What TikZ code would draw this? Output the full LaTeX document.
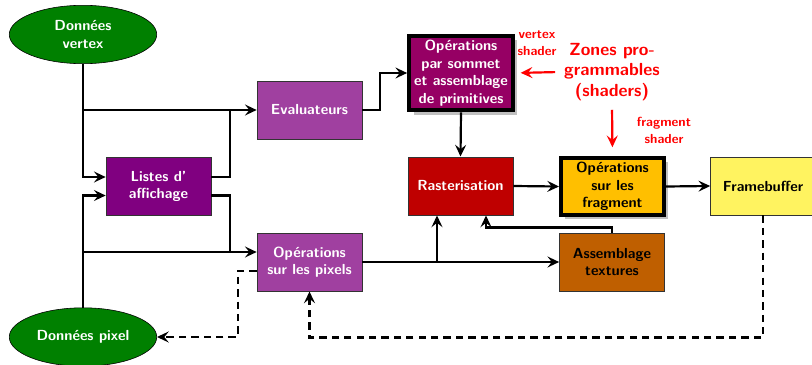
\documentclass[tikz,border=0pt]{standalone}
\usepackage{fontspec}
\usetikzlibrary{shapes.geometric,arrows.meta,calc,shadows}
\definecolor{ellcol}{RGB}{0,128,0}
\definecolor{lstcol}{RGB}{128,0,128}
\definecolor{evcol}{RGB}{160,64,160}
\definecolor{somcol}{RGB}{150,0,100}
\definecolor{rascol}{RGB}{191,0,0}
\definecolor{fragcol}{RGB}{255,191,0}
\definecolor{fbcol}{RGB}{255,243,96}
\definecolor{ascol}{RGB}{191,95,0}
\definecolor{shadcol}{RGB}{192,192,192}
\tikzset{
  every node/.style={font=\sffamily\bfseries},
  box/.style={rectangle, draw=black!80, thin, minimum width=72pt, minimum height=40pt, align=center, inner sep=2pt},
  darkbox/.style={box, text=white},
  lightbox/.style={box, text=black},
  progbox/.style={box, draw=black, line width=2.8pt, drop shadow={shadow xshift=3pt, shadow yshift=-3pt, opacity=1, fill=shadcol}},
  ell/.style={ellipse, draw=black, thin, fill=ellcol, text=white, minimum width=101pt, minimum height=40pt, align=center, inner sep=1pt},
  tip/.style={-{Stealth[length=8pt,width=7.5pt,inset=3pt]}},
  conn/.style={line width=1.5pt, tip},
  wire/.style={line width=1.5pt},
  dconn/.style={line width=1.5pt, dash pattern=on 5pt off 3.5pt, tip},
  redarrow/.style={red, line width=1.5pt, tip},
  redlabel/.style={text=red, align=center, inner sep=1pt}
}
\begin{document}
\begin{tikzpicture}[x=0.685pt,y=-0.685pt]
\useasboundingbox (0,0) rectangle (812,365);
\clip (0,0) rectangle (812,365);
% nodes
\node[ell] (vx) at (83,34.5) {Données\\vertex};
\node[ell] (pd) at (83,337) {Données pixel};
\node[darkbox, fill=lstcol] (lst) at (158.5,186.5) {Listes d'\\affichage};
\node[darkbox, fill=evcol] (ev) at (309.5,110) {Evaluateurs};
\node[progbox, fill=somcol, text=white, minimum width=71pt, minimum height=51pt] (som) at (461,73) {Opérations\\par sommet\\et assemblage\\de primitives};
\node[darkbox, fill=rascol] (ras) at (460.5,186) {Rasterisation};
\node[progbox, fill=fragcol, text=black, minimum width=70.5pt, minimum height=39pt] (frag) at (612.5,186.5) {Opérations\\sur les\\fragment};
\node[lightbox, fill=fbcol] (fb) at (763,186) {Framebuffer};
\node[darkbox, fill=evcol] (px) at (309.5,262) {Opérations\\sur les pixels};
\node[lightbox, fill=ascol] (as) at (612,262) {Assemblage\\textures};
% red labels
\node[redlabel, font=\sffamily\bfseries\small] (vs) at (537,43) {vertex\\[1pt]shader};
\node[redlabel, font=\sffamily\bfseries\large, inner sep=3pt] (zone) at (612,72) {Zones pro-\\grammables\\(shaders)};
\node[redlabel, font=\sffamily\bfseries\small] (fs) at (664,130.5) {fragment\\[1pt]shader};
\draw[redarrow, shorten <=3pt, shorten >=4pt] (zone.west) -- (som.east);
\draw[redarrow, shorten <=3pt, shorten >=6pt] (zone.south) -- (frag.north);
% vertex data connections
\draw[conn] (vx.south) |- ($(lst.west)+(0,-9.5)$);
\draw[conn] (vx.south |- ev.west) -- (ev.west);
\draw[wire] ($(lst.east)+(0,-9.5)$) -| ($(ev.west)+(-27,0)$);
\draw[wire] ($(lst.east)+(0,9)$) -| ($(px.west)+(-27,-10)$);
% pixel data connections
\draw[conn] (pd.north) |- ($(lst.west)+(0,9)$);
\draw[conn] (pd.north |- 0,252) -- ($(px.west)+(0,-10)$);
% pipeline
\draw[conn] (ev.east) -- ++(18,0) |- (som.west);
\draw[conn] (som.south) -- (ras.north);
\draw[conn] (ras.east) -- (frag.west);
\draw[conn] (frag.east) -- (fb.west);
\coordinate (br) at ($(ras.south)+(-23.5,0)$);
\draw[conn] (px.east) -- (as.west);
\draw[conn] (br |- px.east) -- (br);
\draw[conn] (as.north) -- ++(0,-5) -| ($(ras.south)+(25.5,0)$);
% dashed feedback
\draw[dconn] ($(px.west)+(0,9)$) -- ++(-19,0) |- (pd.east);
\draw[dconn] (fb.south) -- ++(0,122) -| (px.south);
\end{tikzpicture}
\end{document}
